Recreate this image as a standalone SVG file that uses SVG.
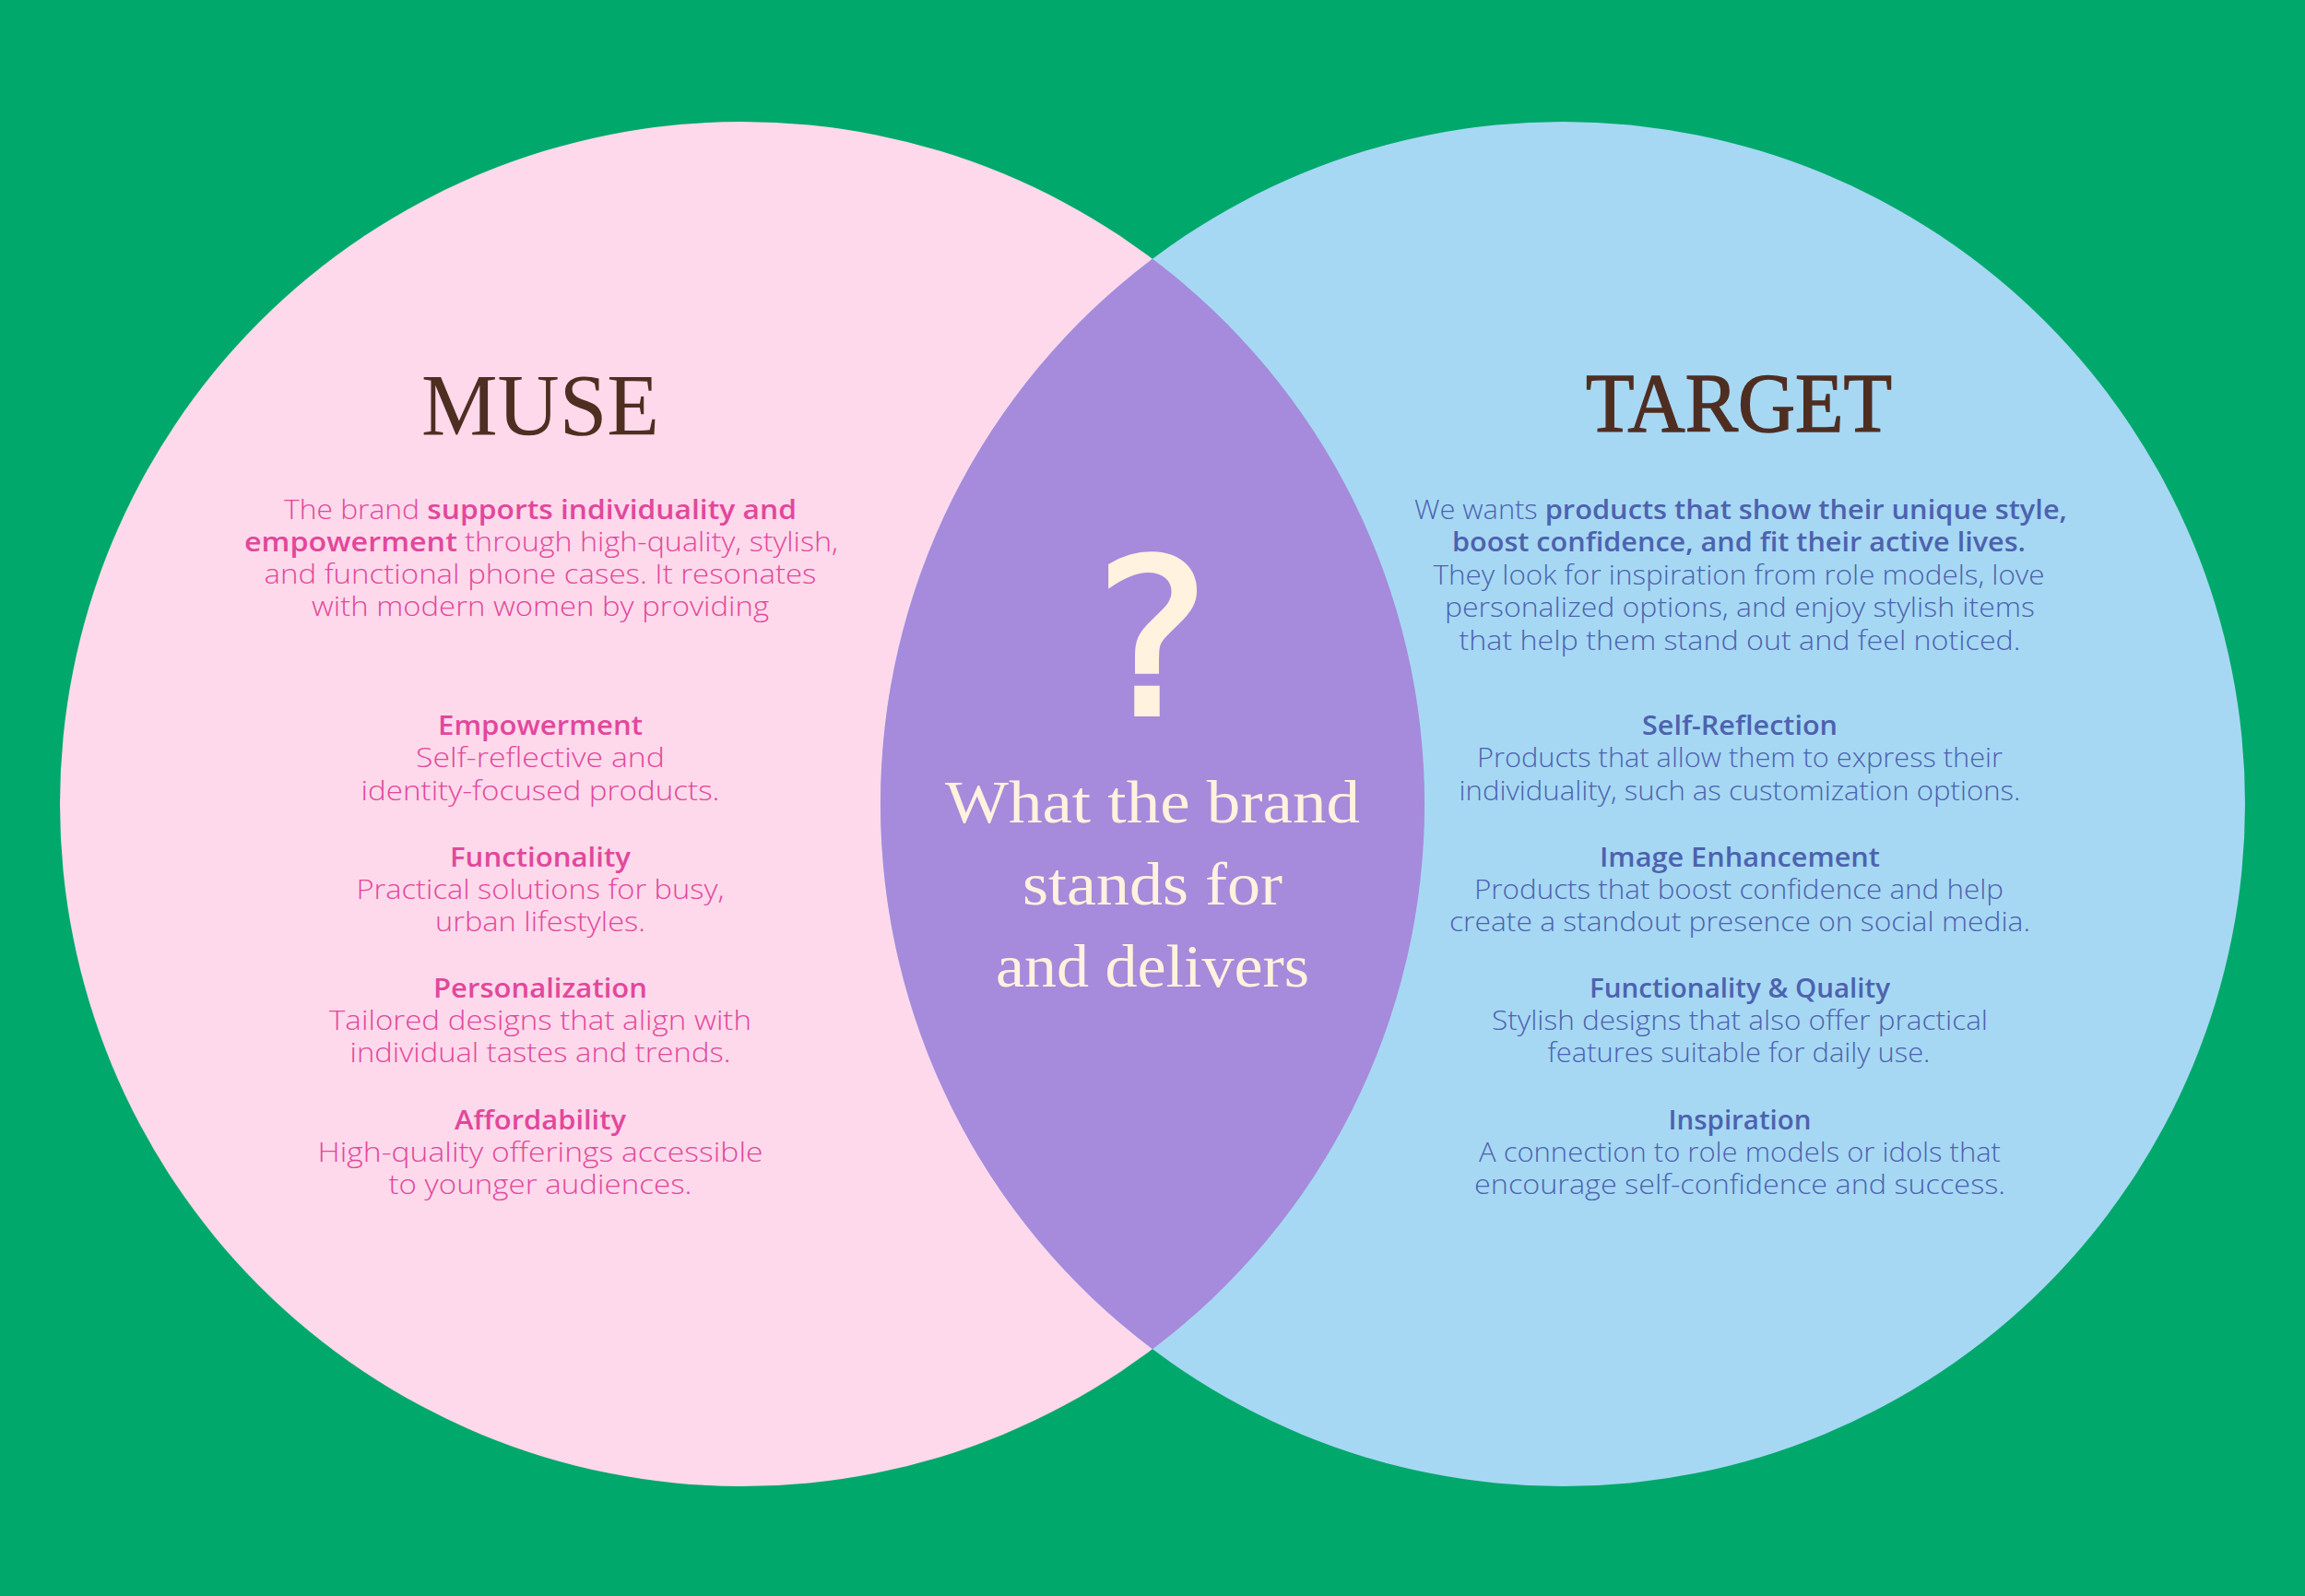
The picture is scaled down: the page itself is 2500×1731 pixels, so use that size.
<svg xmlns="http://www.w3.org/2000/svg" width="2500" height="1731" viewBox="0 0 2500 1731">
<style>
.bg{fill:#00A86B}
.muse{fill:#FDD9EB}
.target{fill:#A6D8F4}
.lens{fill:#A68ADB}
.title{font-family:"Liberation Serif",serif;fill:#4F2E22;text-anchor:middle}
.pk{font-family:"Open Sans","Liberation Sans",sans-serif;font-size:29px;font-weight:300;fill:#E2479B;text-anchor:middle}
.bl{font-family:"Open Sans","Liberation Sans",sans-serif;font-size:29px;font-weight:300;fill:#4D62AE;text-anchor:middle}
.b{font-weight:600}
.cream{fill:#FFF2DE;text-anchor:middle}
.qm{font-family:"DejaVu Sans",sans-serif;font-size:236px}
.mid{font-family:"Liberation Serif",serif;font-size:66px}
</style>
<rect class="bg" x="0" y="0" width="2500" height="1731"/>
<g id="muse">
<circle class="muse" cx="805" cy="872" r="740"/>
</g>
<g id="target">
<circle class="target" cx="1695" cy="872" r="740"/>
</g>
<g id="overlap">
<path class="lens" d="M1250,280.7 A740,740 0 0,1 1250,1463.3 A740,740 0 0,1 1250,280.7 Z"/>
</g>
<g id="connectors"/>
<g id="muse-text">
<text class="title" x="586" y="472" font-size="96" textLength="258" lengthAdjust="spacingAndGlyphs">MUSE</text>
<text class="pk" x="586" y="563" textLength="556" lengthAdjust="spacingAndGlyphs">The brand <tspan class="b">supports individuality and</tspan></text>
<text class="pk" x="587" y="598" textLength="644" lengthAdjust="spacingAndGlyphs"><tspan class="b">empowerment</tspan> through high-quality, stylish,</text>
<text class="pk" x="586" y="633" textLength="599" lengthAdjust="spacingAndGlyphs">and functional phone cases. It resonates</text>
<text class="pk" x="586" y="668" textLength="496" lengthAdjust="spacingAndGlyphs">with modern women by providing</text>
<text class="pk b" x="586" y="797" textLength="222" lengthAdjust="spacingAndGlyphs">Empowerment</text>
<text class="pk" x="586" y="832" textLength="270" lengthAdjust="spacingAndGlyphs">Self-reflective and</text>
<text class="pk" x="586" y="868" textLength="389" lengthAdjust="spacingAndGlyphs">identity-focused products.</text>
<text class="pk b" x="586" y="940" textLength="196" lengthAdjust="spacingAndGlyphs">Functionality</text>
<text class="pk" x="586" y="975" textLength="399" lengthAdjust="spacingAndGlyphs">Practical solutions for busy,</text>
<text class="pk" x="586" y="1010" textLength="228" lengthAdjust="spacingAndGlyphs">urban lifestyles.</text>
<text class="pk b" x="586" y="1082" textLength="232" lengthAdjust="spacingAndGlyphs">Personalization</text>
<text class="pk" x="586" y="1117" textLength="458" lengthAdjust="spacingAndGlyphs">Tailored designs that align with</text>
<text class="pk" x="586" y="1152" textLength="413" lengthAdjust="spacingAndGlyphs">individual tastes and trends.</text>
<text class="pk b" x="586" y="1225" textLength="186" lengthAdjust="spacingAndGlyphs">Affordability</text>
<text class="pk" x="586" y="1260" textLength="483" lengthAdjust="spacingAndGlyphs">High-quality offerings accessible</text>
<text class="pk" x="586" y="1295" textLength="329" lengthAdjust="spacingAndGlyphs">to younger audiences.</text>
</g>
<g id="target-text">
<text class="title" x="1886" y="468" font-size="92" stroke="#4F2E22" stroke-width="1.5" textLength="332" lengthAdjust="spacingAndGlyphs">TARGET</text>
<text class="bl" x="1888" y="563" textLength="708" lengthAdjust="spacingAndGlyphs">We wants <tspan class="b">products that show their unique style,</tspan></text>
<text class="bl b" x="1886" y="598" textLength="622" lengthAdjust="spacingAndGlyphs">boost confidence, and fit their active lives.</text>
<text class="bl" x="1886" y="634" textLength="663" lengthAdjust="spacingAndGlyphs">They look for inspiration from role models, love</text>
<text class="bl" x="1887" y="669" textLength="640" lengthAdjust="spacingAndGlyphs">personalized options, and enjoy stylish items</text>
<text class="bl" x="1887" y="705" textLength="609" lengthAdjust="spacingAndGlyphs">that help them stand out and feel noticed.</text>
<text class="bl b" x="1887" y="797" textLength="212" lengthAdjust="spacingAndGlyphs">Self-Reflection</text>
<text class="bl" x="1887" y="832" textLength="570" lengthAdjust="spacingAndGlyphs">Products that allow them to express their</text>
<text class="bl" x="1887" y="868" textLength="609" lengthAdjust="spacingAndGlyphs">individuality, such as customization options.</text>
<text class="bl b" x="1887" y="940" textLength="304" lengthAdjust="spacingAndGlyphs">Image Enhancement</text>
<text class="bl" x="1886" y="975" textLength="574" lengthAdjust="spacingAndGlyphs">Products that boost confidence and help</text>
<text class="bl" x="1887" y="1010" textLength="630" lengthAdjust="spacingAndGlyphs">create a standout presence on social media.</text>
<text class="bl b" x="1887" y="1082" textLength="326" lengthAdjust="spacingAndGlyphs">Functionality &amp; Quality</text>
<text class="bl" x="1887" y="1117" textLength="538" lengthAdjust="spacingAndGlyphs">Stylish designs that also offer practical</text>
<text class="bl" x="1886" y="1152" textLength="415" lengthAdjust="spacingAndGlyphs">features suitable for daily use.</text>
<text class="bl b" x="1887" y="1225" textLength="155" lengthAdjust="spacingAndGlyphs">Inspiration</text>
<text class="bl" x="1887" y="1260" textLength="566" lengthAdjust="spacingAndGlyphs">A connection to role models or idols that</text>
<text class="bl" x="1887" y="1295" textLength="576" lengthAdjust="spacingAndGlyphs">encourage self-confidence and success.</text>
</g>
<g id="overlap-text">
<text class="cream qm" x="1250" y="775" stroke="#FFF2DE" stroke-width="4">?</text>
<text class="cream mid" x="1250" y="892" textLength="450" lengthAdjust="spacingAndGlyphs">What the brand</text>
<text class="cream mid" x="1250" y="981" textLength="282" lengthAdjust="spacingAndGlyphs">stands for</text>
<text class="cream mid" x="1250" y="1070" textLength="340" lengthAdjust="spacingAndGlyphs">and delivers</text>
</g>
</svg>
